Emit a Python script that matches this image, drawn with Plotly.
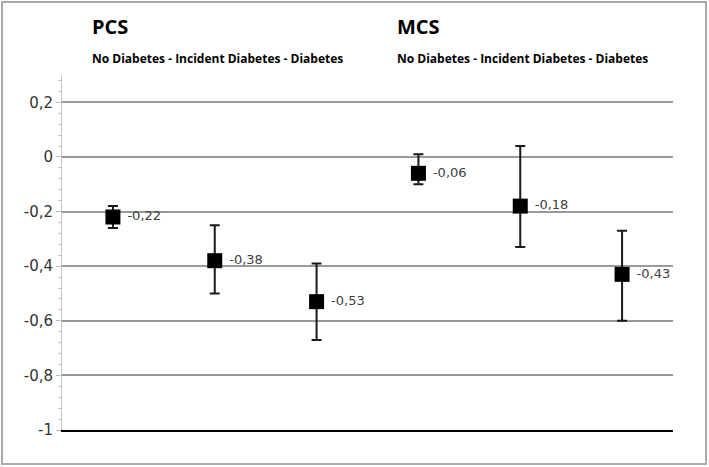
import plotly.graph_objects as go

categories = ["PCS No Diabetes", "PCS Incident Diabetes", "PCS Diabetes",
              "MCS No Diabetes", "MCS Incident Diabetes", "MCS Diabetes"]
means = [-0.22, -0.38, -0.53, -0.06, -0.18, -0.43]
upper = [-0.18, -0.25, -0.39, 0.01, 0.04, -0.27]
lower = [-0.26, -0.50, -0.67, -0.10, -0.33, -0.60]
tick_vals = [0.2, 0, -0.2, -0.4, -0.6, -0.8, -1]
tick_labels = ["0,2", "0", "-0,2", "-0,4", "-0,6", "-0,8", "-1"]
group_titles = ["PCS", "MCS"]
group_subtitle = "No Diabetes - Incident Diabetes - Diabetes"

labels = [f"{v:.2f}".replace(".", ",") for v in means]
err_plus = [u - m for u, m in zip(upper, means)]
err_minus = [m - l for m, l in zip(means, lower)]

fig = go.Figure()
fig.add_trace(go.Scatter(
    x=categories, y=means, mode="markers+text",
    text=[" " + t for t in labels], textposition="middle right",
    textfont=dict(family="DejaVu Sans", size=13, color="#404040"),
    marker=dict(symbol="square", size=15, color="black"),
    error_y=dict(type="data", symmetric=False, array=err_plus, arrayminus=err_minus,
                 color="#1a1a1a", thickness=2, width=5),
    showlegend=False, cliponaxis=False,
))

fig.update_layout(
    width=709, height=467,
    margin=dict(l=62, r=36, t=75, b=37),
    paper_bgcolor="white", plot_bgcolor="white",
    xaxis=dict(type="category", range=[-0.5, 5.5], showticklabels=False, ticks="",
               showgrid=False, zeroline=False, showline=True, linecolor="black",
               linewidth=2, mirror=False),
    yaxis=dict(range=[-1, 0.3], tickvals=tick_vals, ticktext=tick_labels,
               tickfont=dict(family="DejaVu Sans", size=15, color="#333333"),
               showgrid=True, gridcolor="#9a9a9a", gridwidth=2, zeroline=False,
               showline=True, linecolor="#c8c8c8", linewidth=1,
               ticks="outside", ticklen=5, tickcolor="#bbbbbb",
               minor=dict(dtick=0.04, ticks="outside", ticklen=3, tickcolor="#c8c8c8",
                          showgrid=False)),
    shapes=[dict(type="rect", xref="paper", yref="paper", x0=-60/611, x1=(611+33)/611,
                 y0=-34/355, y1=(355+73)/355, line=dict(color="#aaaaaa", width=2))],
)

title_x = [92, 397]
for tx, title in zip(title_x, group_titles):
    fig.add_annotation(text="<b>" + title + "</b>", xref="paper", yref="paper",
                       x=(tx - 64) / 611, y=(430 - 27) / 355, xanchor="left", yanchor="middle",
                       showarrow=False,
                       font=dict(family="Open Sans", size=20, color="black"))
    fig.add_annotation(text="<b>" + group_subtitle + "</b>", xref="paper", yref="paper",
                       x=(tx - 64) / 611, y=(430 - 58) / 355, xanchor="left", yanchor="middle",
                       showarrow=False,
                       font=dict(family="Open Sans", size=12, color="black"))

fig.write_html("out.html", config={"displayModeBar": False},
               post_script="document.body.style.margin='0';document.body.style.overflow='hidden';")
